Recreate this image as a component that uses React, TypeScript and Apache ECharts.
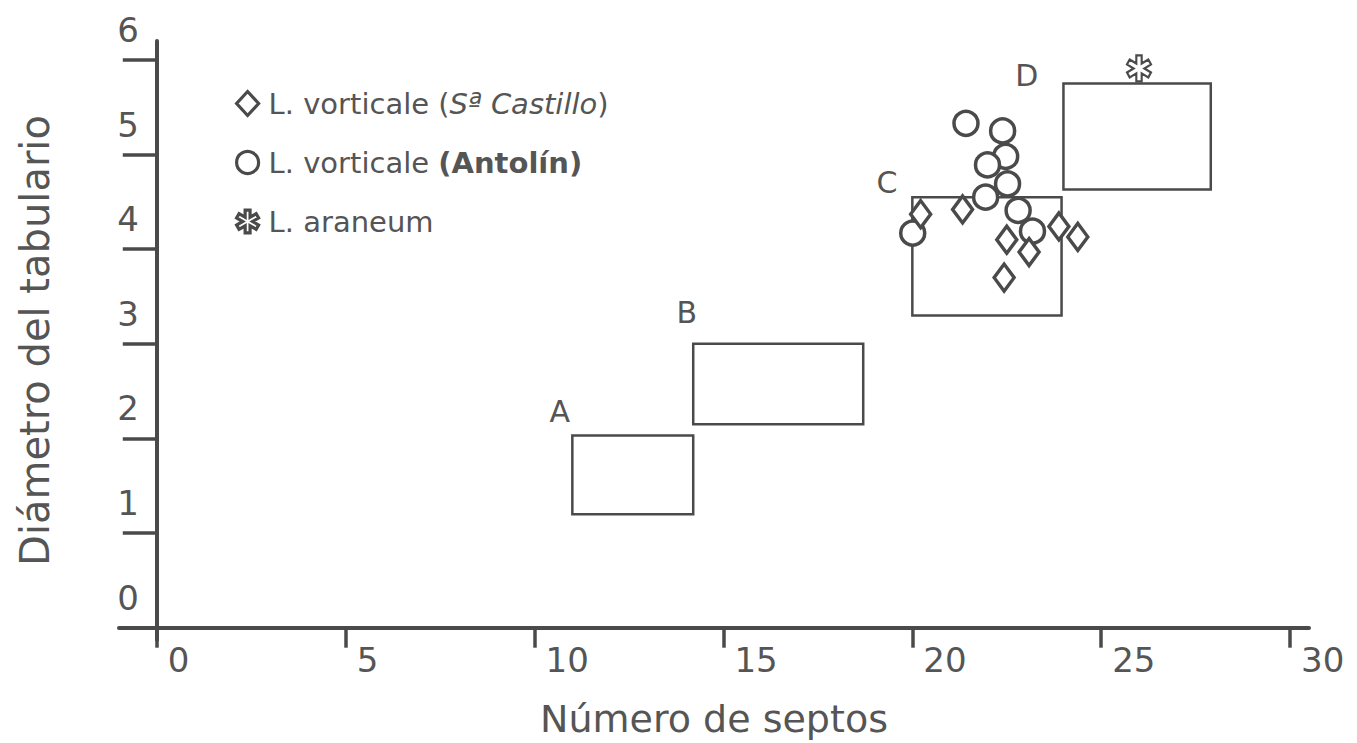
import React, { useEffect, useRef } from "react";
import * as echarts from "echarts";

// ---- data ----
const X_TICKS = [0, 5, 10, 15, 20, 25, 30];
const Y_TICKS = [0, 1, 2, 3, 4, 5, 6];

const SERIES_NAMES = [
  "L. vorticale (Sª Castillo)",
  "L. vorticale (Antolín)",
  "L. araneum",
];

// L. vorticale (Sª Castillo) — diamonds
const castilloX = [20.22, 21.33, 22.5, 23.09, 22.43, 23.88, 24.38];
const castilloY = [4.37, 4.42, 4.1, 3.97, 3.7, 4.24, 4.13];

// L. vorticale (Antolín) — circles
const antolinX = [21.42, 22.39, 22.47, 21.99, 22.52, 21.94, 22.8, 23.18, 20.01];
const antolinY = [5.33, 5.25, 4.98, 4.89, 4.69, 4.55, 4.41, 4.19, 4.17];

// L. araneum — asterisk
const araneumX = [26.0];
const araneumY = [5.91];

// Fields A–D: [xMin, xMax, yMin, yMax]
const BOX_NAMES = ["A", "B", "C", "D"];
const boxXMin = [11.0, 14.2, 20.0, 24.0];
const boxXMax = [14.2, 18.7, 23.95, 27.9];
const boxYMin = [1.2, 2.15, 3.3, 4.63];
const boxYMax = [2.03, 3.0, 4.55, 5.75];
const boxLabelX = [10.67, 14.03, 19.33, 23.03];
const boxLabelY = [2.28, 3.33, 4.7, 5.84];

// ---- styling ----
const FONT = "'DejaVu Sans', 'Noto Sans', sans-serif";
const INK = "#4a4a4a";
const TEXT = "#555555";

function asteriskPath(arms: number, L: number, w: number): string {
  const ri = w / Math.sin(Math.PI / arms);
  const pts: [number, number][] = [];
  for (let k = 0; k < arms; k++) {
    const a = Math.PI / 2 + (k * 2 * Math.PI) / arms;
    const d = [Math.cos(a), Math.sin(a)];
    const n = [-Math.sin(a), Math.cos(a)];
    pts.push([L * d[0] - w * n[0], L * d[1] - w * n[1]]);
    pts.push([L * d[0] + w * n[0], L * d[1] + w * n[1]]);
    const b = a + Math.PI / arms;
    pts.push([ri * Math.cos(b), ri * Math.sin(b)]);
  }
  return (
    "path://" +
    pts
      .map((p, i) => `${i === 0 ? "M" : "L"}${(p[0] + 12).toFixed(3)} ${(12 - p[1]).toFixed(3)}`)
      .join(" ") +
    " Z"
  );
}
const ASTERISK = asteriskPath(6, 11, 2.4);

export default function App() {
  const ref = useRef<HTMLDivElement>(null);

  useEffect(() => {
    if (!ref.current) return;
    const chart = echarts.init(ref.current, undefined, { renderer: "svg" });

    const zip = (xs: number[], ys: number[]) => xs.map((x, i) => [x, ys[i]]);
    const boxData = BOX_NAMES.map((_, i) => [
      boxXMin[i],
      boxXMax[i],
      boxYMin[i],
      boxYMax[i],
      boxLabelX[i],
      boxLabelY[i],
    ]);

    const pointStyle = {
      color: "#ffffff",
      borderColor: INK,
      borderWidth: 3.5,
      opacity: 1,
    };

    chart.setOption({
      animation: false,
      backgroundColor: "#ffffff",
      grid: {
        left: 119,
        right: 48,
        top: 41,
        bottom: 103,
        outerBoundsMode: "none",
        containLabel: false,
      },
      legend: {
        data: SERIES_NAMES,
        orient: "vertical",
        left: 230,
        top: 84,
        itemGap: 30,
        itemWidth: 22,
        itemHeight: 24,
        itemStyle: { borderWidth: 3.2, borderColor: INK, color: "#fff" },
        textStyle: {
          fontFamily: FONT,
          fontSize: 29,
          color: TEXT,
          padding: [0, 0, 0, 5],
          rich: {
            i: { fontFamily: FONT, fontSize: 29, color: TEXT, fontStyle: "italic" },
            b: { fontFamily: FONT, fontSize: 29, color: TEXT, fontWeight: "bold" },
          },
        },
        formatter: (name: string) => {
          if (name === SERIES_NAMES[0]) return "L. vorticale ({i|Sª Castillo})";
          if (name === SERIES_NAMES[1]) return "L. vorticale {b|(Antolín)}";
          return name;
        },
      },
      xAxis: {
        type: "value",
        min: -1,
        max: 30.5,
        splitLine: { show: false },
        axisLine: { onZero: true, lineStyle: { color: INK, width: 4 } },
        axisTick: {
          show: true,
          customValues: X_TICKS,
          length: 20,
          inside: false,
          lineStyle: { color: INK, width: 3.5 },
        },
        axisLabel: {
          customValues: X_TICKS,
          align: "left",
          padding: [0, 0, 0, 11],
          margin: 3,
          fontSize: 34,
          fontFamily: FONT,
          color: TEXT,
        },
        name: "Número de septos",
        nameLocation: "middle",
        nameGap: 60,
        nameTextStyle: { fontSize: 38, fontFamily: FONT, color: TEXT },
      },
      yAxis: {
        type: "value",
        min: -0.13,
        max: 6.2,
        splitLine: { show: false },
        axisLine: { onZero: true, lineStyle: { color: INK, width: 4 } },
        axisTick: {
          show: true,
          customValues: Y_TICKS,
          length: 34,
          inside: false,
          lineStyle: { color: INK, width: 3.5 },
        },
        axisLabel: {
          customValues: Y_TICKS,
          align: "center",
          verticalAlign: "bottom",
          padding: [0, 0, 13, 0],
          margin: -9,
          fontSize: 34,
          fontFamily: FONT,
          color: TEXT,
        },
        name: "Diámetro del tabulario",
        nameLocation: "middle",
        nameGap: 64,
        nameTextStyle: { fontSize: 40, fontFamily: FONT, color: TEXT },
      },
      series: [
        {
          type: "custom",
          name: "Campos",
          data: boxData,
          encode: { x: [0, 1, 4], y: [2, 3, 5] },
          z: 1,
          renderItem: (params: any, api: any) => {
            const tl = api.coord([api.value(0), api.value(3)]);
            const br = api.coord([api.value(1), api.value(2)]);
            const lp = api.coord([api.value(4), api.value(5)]);
            return {
              type: "group",
              children: [
                {
                  type: "rect",
                  shape: { x: tl[0], y: tl[1], width: br[0] - tl[0], height: br[1] - tl[1] },
                  style: { fill: "none", stroke: INK, lineWidth: 2.5 },
                },
                {
                  type: "text",
                  x: lp[0],
                  y: lp[1],
                  style: {
                    text: BOX_NAMES[params.dataIndex],
                    fontSize: 30,
                    fontFamily: FONT,
                    fill: TEXT,
                    align: "center",
                    verticalAlign: "middle",
                  },
                },
              ],
            };
          },
        },
        {
          type: "scatter",
          name: SERIES_NAMES[0],
          data: zip(castilloX, castilloY),
          symbol: "diamond",
          symbolSize: [20, 27],
          itemStyle: pointStyle,
          z: 3,
        },
        {
          type: "scatter",
          name: SERIES_NAMES[1],
          data: zip(antolinX, antolinY),
          symbol: "circle",
          symbolSize: 24,
          itemStyle: pointStyle,
          z: 2,
        },
        {
          type: "scatter",
          name: SERIES_NAMES[2],
          data: zip(araneumX, araneumY),
          symbol: ASTERISK,
          symbolSize: [24, 26],
          itemStyle: { ...pointStyle, borderWidth: 2.2 },
          z: 3,
        },
      ],
    });

    return () => chart.dispose();
  }, []);

  return (
    <div
      ref={ref}
      style={{ position: "fixed", left: 0, top: 0, width: "1357px", height: "743px", background: "#fff" }}
    />
  );
}
